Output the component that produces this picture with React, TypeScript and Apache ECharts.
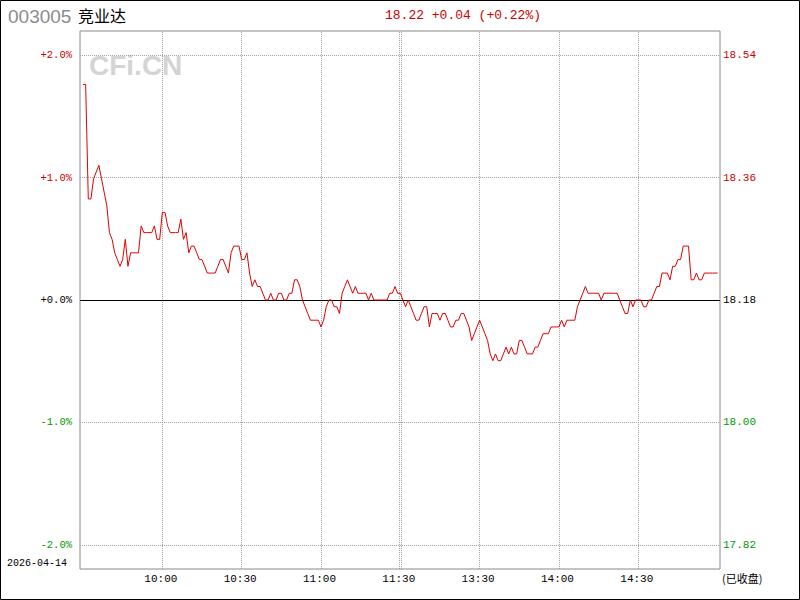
import React, { useEffect, useRef } from "react";
import * as echarts from "echarts";

const STOCK_CODE = "003005";
const STOCK_NAME = "竞业达";
const TRADE_DATE = "2026-04-14";
const STATUS_TEXT = "(已收盘)";
const WATERMARK = "CFi.CN";
const PREV_CLOSE = 18.18;

// 09:30 .. 11:30 (121 minutes)
const morningPrices = [
  18.50, 18.50, 18.33, 18.33, 18.36, 18.37, 18.38, 18.36, 18.34, 18.32,
  18.28, 18.27, 18.25, 18.24, 18.23, 18.24, 18.27, 18.23, 18.25, 18.25,
  18.25, 18.25, 18.29, 18.28, 18.28, 18.28, 18.28, 18.29, 18.27, 18.27,
  18.31, 18.31, 18.29, 18.28, 18.28, 18.28, 18.28, 18.30, 18.27, 18.28,
  18.25, 18.26, 18.26, 18.25, 18.24, 18.24, 18.23, 18.22, 18.22, 18.22,
  18.22, 18.23, 18.24, 18.24, 18.23, 18.22, 18.25, 18.26, 18.26, 18.26,
  18.24, 18.24, 18.25, 18.22, 18.20, 18.21, 18.20, 18.20, 18.19, 18.18,
  18.18, 18.19, 18.18, 18.18, 18.19, 18.19, 18.18, 18.18, 18.19, 18.19,
  18.21, 18.21, 18.20, 18.18, 18.17, 18.16, 18.15, 18.15, 18.15, 18.15,
  18.14, 18.15, 18.17, 18.18, 18.18, 18.17, 18.17, 18.16, 18.19, 18.20,
  18.21, 18.20, 18.19, 18.20, 18.19, 18.19, 18.19, 18.19, 18.18, 18.19,
  18.18, 18.18, 18.18, 18.18, 18.18, 18.18, 18.19, 18.19, 18.20, 18.19,
  18.19,
];

// 13:01 .. 15:00 (120 minutes)
const afternoonPrices = [
  18.18, 18.17, 18.18, 18.17, 18.16, 18.15, 18.15, 18.16, 18.17, 18.17,
  18.14, 18.16, 18.16, 18.16, 18.15, 18.16, 18.16, 18.15, 18.14, 18.14,
  18.15, 18.15, 18.16, 18.16, 18.15, 18.14, 18.12, 18.13, 18.14, 18.15,
  18.14, 18.13, 18.12, 18.10, 18.09, 18.10, 18.09, 18.09, 18.10, 18.11,
  18.10, 18.11, 18.10, 18.10, 18.12, 18.12, 18.11, 18.10, 18.10, 18.10,
  18.11, 18.11, 18.12, 18.13, 18.13, 18.13, 18.14, 18.14, 18.14, 18.14,
  18.15, 18.14, 18.15, 18.15, 18.15, 18.15, 18.17, 18.18, 18.19, 18.20,
  18.19, 18.19, 18.19, 18.19, 18.19, 18.18, 18.19, 18.19, 18.19, 18.19,
  18.19, 18.19, 18.18, 18.17, 18.16, 18.16, 18.18, 18.17, 18.18, 18.18,
  18.18, 18.17, 18.17, 18.18, 18.18, 18.19, 18.20, 18.20, 18.22, 18.22,
  18.22, 18.21, 18.23, 18.23, 18.24, 18.24, 18.26, 18.26, 18.26, 18.21,
  18.21, 18.22, 18.21, 18.21, 18.22, 18.22, 18.22, 18.22, 18.22, 18.22,
];

const pctTicks = [-2, -1, 0, 1, 2];
const timeTickIndex = [30, 60, 90, 150, 180, 210];
const timeTickLabels = ["10:00", "10:30", "11:00", "13:30", "14:00", "14:30"];
const middayTickIndex = 120;
const middayLabel = "11:30";

const RED = "#cc0000";
const GREEN = "#009900";
const LINE_RED = "#dd0000";
const GRID_GRAY = "#a0a0a0";
const MONO = '"Liberation Mono", "DejaVu Sans Mono", monospace';

export default function App() {
  const ref = useRef<HTMLDivElement>(null);

  useEffect(() => {
    document.body.style.margin = "0";
    const chart = echarts.init(ref.current!, null, { renderer: "svg" });

    const prices = [...morningPrices, ...afternoonPrices];
    const seriesData = prices.map((p, i) => [i, (p / PREV_CLOSE - 1) * 100]);
    const last = prices[prices.length - 1];
    const chg = last - PREV_CLOSE;
    const chgPct = (chg / PREV_CLOSE) * 100;
    const sign = (v: number) => (v >= 0 ? "+" : "-");
    const headline = `${last.toFixed(2)} ${sign(chg)}${Math.abs(chg).toFixed(2)} (${sign(chgPct)}${Math.abs(chgPct).toFixed(2)}%)`;

    const Y_RANGE = 2.196;
    const X_MIN = -1.135;
    const X_MAX = 240.908;

    const colorFor = (v: any) => {
      const n = parseFloat(v);
      return n > 0.0001 ? RED : n < -0.0001 ? GREEN : "#000";
    };

    const xTicks = [...timeTickIndex.slice(0, 3), middayTickIndex, ...timeTickIndex.slice(3)];
    const xLabels = [...timeTickLabels.slice(0, 3), middayLabel, ...timeTickLabels.slice(3)];

    const dotted = { type: "dotted" as const, color: GRID_GRAY, width: 1 };
    const markData: any[] = [];
    timeTickIndex.forEach((v) => markData.push({ xAxis: v, lineStyle: dotted }));
    markData.push({ xAxis: middayTickIndex - 0.3, lineStyle: dotted });
    markData.push({ xAxis: middayTickIndex + 0.45, lineStyle: dotted });
    pctTicks.forEach((v) => {
      if (v === 0) {
        markData.push({ yAxis: v, lineStyle: { type: "solid", color: "#000", width: 1 } });
      } else {
        markData.push({ yAxis: v, lineStyle: dotted });
      }
    });

    chart.setOption({
      animation: false,
      backgroundColor: "#fff",
      grid: {
        left: 80,
        right: 80,
        top: 31,
        bottom: 31,
        show: true,
        borderColor: "#888",
        borderWidth: 1,
        backgroundColor: "transparent",
      },
      xAxis: {
        type: "value",
        min: X_MIN,
        max: X_MAX,
        axisLine: { show: false },
        axisTick: { show: false },
        splitLine: { show: false },
        axisLabel: {
          customValues: xTicks,
          formatter: (v: number) => {
            const k = xTicks.findIndex((t) => Math.abs(t - v) < 0.01);
            return k >= 0 ? xLabels[k] : "";
          },
          margin: 4,
          padding: [0, 3, 0, 0],
          color: "#000",
          fontFamily: MONO,
          fontSize: 11,
        },
      },
      yAxis: [
        {
          type: "value",
          min: -Y_RANGE,
          max: Y_RANGE,
          position: "left",
          axisLine: { show: false },
          axisTick: { show: false },
          splitLine: { show: false },
          axisLabel: {
            customValues: pctTicks,
            formatter: (v: number) => `${v < 0 ? "-" : "+"}${Math.abs(v).toFixed(1)}%`,
            color: colorFor,
            margin: 8,
            fontFamily: MONO,
            fontSize: 10.5,
          },
        },
        {
          type: "value",
          min: -Y_RANGE,
          max: Y_RANGE,
          position: "right",
          axisLine: { show: false },
          axisTick: { show: false },
          splitLine: { show: false },
          axisLabel: {
            customValues: pctTicks,
            formatter: (v: number) => (PREV_CLOSE * (1 + v / 100)).toFixed(2),
            color: colorFor,
            margin: 3,
            fontFamily: MONO,
            fontSize: 11,
          },
        },
      ],
      series: [
        {
          type: "line",
          data: seriesData,
          showSymbol: false,
          silent: true,
          lineStyle: { color: LINE_RED, width: 1 },
          itemStyle: { color: LINE_RED },
          z: 5,
          markLine: {
            silent: true,
            symbol: ["none", "none"],
            label: { show: false },
            emphasis: { disabled: true },
            data: markData,
          },
        },
      ],
      graphic: [
        {
          type: "rect",
          silent: true,
          shape: { x: 0.5, y: 0.5, width: 799, height: 599 },
          style: { fill: "none", stroke: "#000", lineWidth: 1 },
        },
        {
          type: "text",
          silent: true,
          x: 8,
          y: 16,
          style: {
            text: STOCK_CODE,
            fill: "#8c8c8c",
            font: '19px "Liberation Sans", Arial, sans-serif',
            textVerticalAlign: "middle",
          },
        },
        {
          type: "text",
          silent: true,
          x: 78,
          y: 15,
          style: {
            text: STOCK_NAME,
            fill: "#000",
            font: '16px "Noto Sans CJK SC", sans-serif',
            textVerticalAlign: "middle",
          },
        },
        {
          type: "text",
          silent: true,
          x: 385,
          y: 15,
          style: {
            text: headline,
            fill: RED,
            font: `13px ${MONO}`,
            textVerticalAlign: "middle",
          },
        },
        {
          type: "text",
          silent: true,
          x: 89,
          y: 65,
          style: {
            text: WATERMARK,
            fill: "#d4d4d4",
            font: 'bold 28px "Liberation Sans", Arial, sans-serif',
            textVerticalAlign: "middle",
          },
        },
        {
          type: "text",
          silent: true,
          x: 7,
          y: 563,
          style: {
            text: TRADE_DATE,
            fill: "#000",
            font: `10px ${MONO}`,
            textVerticalAlign: "middle",
          },
        },
        {
          type: "text",
          silent: true,
          x: 722,
          y: 578,
          style: {
            text: STATUS_TEXT,
            fill: "#000",
            font: '11px "Noto Sans CJK SC", sans-serif',
            textVerticalAlign: "middle",
          },
        },
      ],
    });

    return () => chart.dispose();
  }, []);

  return (
    <div
      ref={ref}
      style={{ position: "absolute", left: 0, top: 0, width: 800, height: 600 }}
    />
  );
}
